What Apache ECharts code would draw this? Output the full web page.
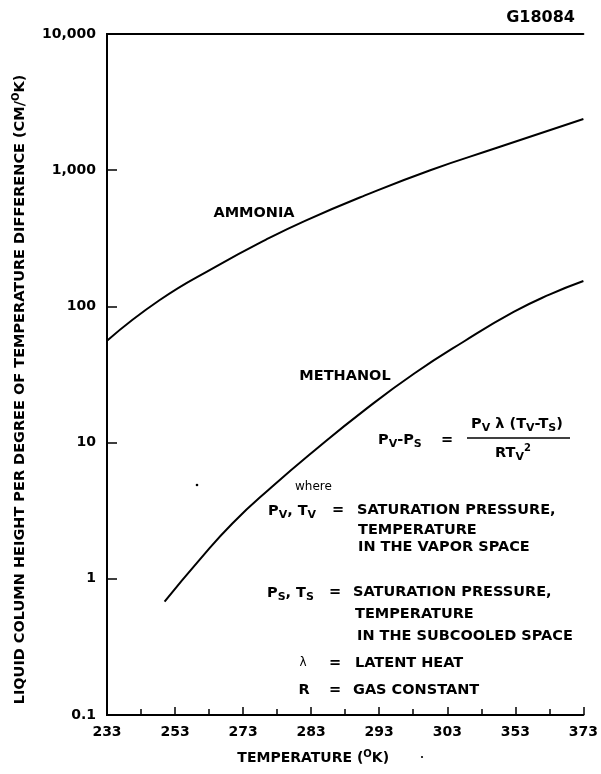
<!DOCTYPE html>
<html><head><meta charset="utf-8">
<script src="https://cdn.jsdelivr.net/npm/echarts@6/dist/echarts.min.js"></script>
<style>html,body{margin:0;padding:0;background:#fff}#c{width:601px;height:774px}</style>
</head><body><div id="c"></div>
<script>
// x positions are in label-index units (the original axis labels are evenly spaced)
const tempLabels = ['233', '253', '273', '283', '293', '303', '353', '373'];
const yTickLabels = ['0.1', '1', '10', '100', '1,000', '10,000'];
const ammoniaX = [0, 0.77, 1.6, 2.33, 2.91, 3.79, 4.75, 5.73, 7];
const ammoniaY = [56, 111, 196, 308, 425, 653, 1000, 1460, 2377];
const methanolX = [0.846, 1.356, 1.842, 2.425, 3.058, 3.79, 4.52, 5.25, 5.975, 6.5, 7];
const methanolY = [0.68, 1.37, 2.55, 4.74, 8.83, 17.4, 32.3, 55.5, 91, 122, 153.6];

const FONT = '"DejaVu Sans", sans-serif';
const rich = {
  sub: { fontFamily: FONT, fontWeight: 'bold', fontSize: 11, padding: [9, 0, 0, 0], fill: '#000' },
  sup: { fontFamily: FONT, fontWeight: 'bold', fontSize: 10, padding: [0, 0, 9, 0], fill: '#000' }
};
function txt(x, y, text, o) {
  o = o || {};
  return {
    type: 'text', x: x, y: y, silent: true,
    style: {
      text: text, fill: '#000', font: (o.weight || 'bold') + ' ' + (o.size || 14.5) + 'px ' + FONT,
      fontFamily: FONT, fontWeight: o.weight || 'bold', fontSize: o.size || 14.5,
      textAlign: o.align || 'left', textVerticalAlign: 'middle', rich: rich
    }
  };
}

const chart = echarts.init(document.getElementById('c'), null, { renderer: 'canvas' });
const axisLine = { show: true, lineStyle: { color: '#000', width: 2 } };
const supRich = { sup: { fontFamily: FONT, fontWeight: 'bold', fontSize: 10, padding: [0, 0, 9, 0], color: '#000' } };
chart.setOption({
  backgroundColor: '#fff',
  animation: false,
  grid: { left: 107, right: 14, top: 34, bottom: 59 },
  xAxis: [{
    type: 'value', min: 0, max: 7, interval: 1,
    name: 'TEMPERATURE ({sup|O}K)', nameLocation: 'middle', nameGap: 34,
    nameTextStyle: {
      color: '#000', fontFamily: FONT, fontWeight: 'bold', fontSize: 14, padding: [0, 64, 0, 0], rich: supRich
    },
    axisLine: axisLine,
    axisTick: { show: true, inside: true, length: 8, lineStyle: { color: '#000', width: 1.5 } },
    minorTick: { show: true, splitNumber: 2, length: 6, lineStyle: { color: '#000', width: 1.5 } },
    axisLabel: {
      color: '#000', fontFamily: FONT, fontWeight: 'bold', fontSize: 14, margin: 10,
      formatter: function (v) { return tempLabels[Math.round(v)]; }
    },
    splitLine: { show: false }
  }, {
    type: 'value', min: 0, max: 7, position: 'top',
    axisLine: axisLine, axisTick: { show: false }, axisLabel: { show: false }, splitLine: { show: false }
  }],
  yAxis: [{
    type: 'log', logBase: 10, min: 0.1, max: 10000,
    name: 'LIQUID COLUMN HEIGHT PER DEGREE OF TEMPERATURE DIFFERENCE (CM/{sup|O}K)',
    nameLocation: 'middle', nameGap: 77,
    nameTextStyle: {
      color: '#000', fontFamily: FONT, fontWeight: 'bold', fontSize: 14.5, padding: [0, 30, 0, 0], rich: supRich
    },
    axisLine: axisLine,
    axisTick: { show: true, inside: true, length: 10, lineStyle: { color: '#000', width: 1.5 } },
    axisLabel: {
      color: '#000', fontFamily: FONT, fontWeight: 'bold', fontSize: 14, margin: 11,
      formatter: function (v) { return yTickLabels[Math.round(Math.log10(v)) + 1]; }
    },
    splitLine: { show: false }
  }, {
    type: 'log', logBase: 10, min: 0.1, max: 10000, position: 'right',
    axisLine: axisLine, axisTick: { show: false }, axisLabel: { show: false }, splitLine: { show: false }
  }],
  series: [{
    name: 'AMMONIA', type: 'line', smooth: true, showSymbol: false, silent: true,
    lineStyle: { color: '#000', width: 2 },
    data: ammoniaX.map(function (x, i) { return [x, ammoniaY[i]]; })
  }, {
    name: 'METHANOL', type: 'line', smooth: true, showSymbol: false, silent: true,
    lineStyle: { color: '#000', width: 2 },
    data: methanolX.map(function (x, i) { return [x, methanolY[i]]; })
  }],
  graphic: [
    txt(575, 18, 'G18084', { size: 16, align: 'right' }),
    txt(254, 213, 'AMMONIA', { align: 'center' }),
    txt(345, 376, 'METHANOL', { align: 'center' }),
    txt(378, 440, 'P{sub|V}-P{sub|S}'),
    txt(447, 440, '=', { align: 'center' }),
    txt(517, 424, 'P{sub|V} λ (T{sub|V}-T{sub|S})', { align: 'center' }),
    { type: 'line', silent: true, shape: { x1: 467, y1: 438, x2: 570, y2: 438 }, style: { stroke: '#000', lineWidth: 1.5 } },
    txt(513, 453, 'RT{sub|V}{sup|2}', { align: 'center' }),
    txt(295, 487, 'where', { size: 12, weight: 'normal' }),
    txt(268, 511, 'P{sub|V}, T{sub|V}'),
    txt(338, 510, '=', { align: 'center' }),
    txt(357, 510, 'SATURATION PRESSURE,'),
    txt(358, 530, 'TEMPERATURE'),
    txt(358, 547, 'IN THE VAPOR SPACE'),
    txt(267, 593, 'P{sub|S}, T{sub|S}'),
    txt(335, 592, '=', { align: 'center' }),
    txt(353, 592, 'SATURATION PRESSURE,'),
    txt(355, 614, 'TEMPERATURE'),
    txt(357, 636, 'IN THE SUBCOOLED SPACE'),
    txt(303, 663, 'λ', { align: 'center', weight: 'normal', size: 12 }),
    txt(335, 663, '=', { align: 'center' }),
    txt(355, 663, 'LATENT HEAT'),
    txt(304, 690, 'R', { align: 'center' }),
    txt(335, 690, '=', { align: 'center' }),
    txt(353, 690, 'GAS CONSTANT'),
    { type: 'circle', silent: true, shape: { cx: 197, cy: 485, r: 1.3 }, style: { fill: '#000' } },
    { type: 'circle', silent: true, shape: { cx: 422, cy: 757, r: 1.1 }, style: { fill: '#000' } }
  ]
});
</script>
</body></html>
